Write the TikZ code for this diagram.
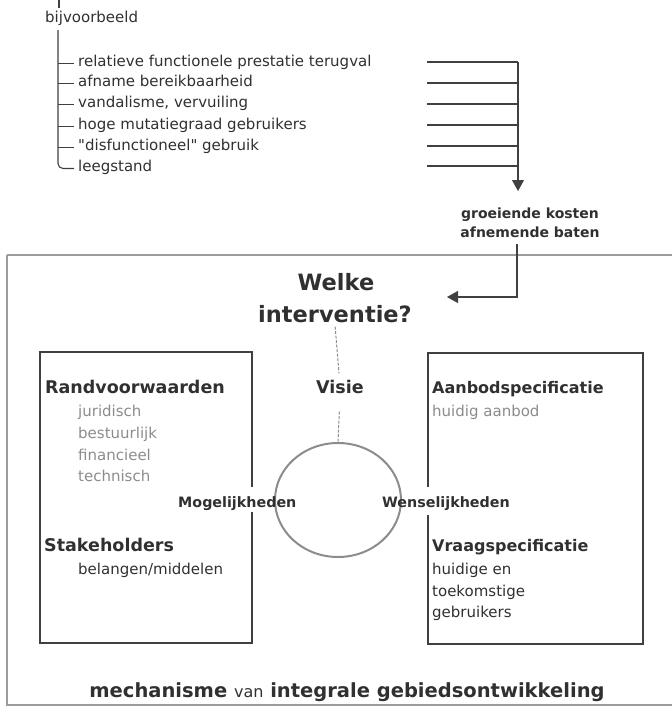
\documentclass[tikz,border=0pt]{standalone}
\usepackage{fontspec}
\setmainfont{DejaVu Sans}[Ligatures=TeXOff]
\usetikzlibrary{arrows.meta,shapes.geometric}
\definecolor{ink}{HTML}{303030}
\definecolor{soft}{HTML}{8C8C8C}
\definecolor{frame}{HTML}{9C9C9C}
\definecolor{wire}{HTML}{404040}

\begin{document}
\begin{tikzpicture}[x=1pt,y=-1pt,
  txt/.style={inner sep=0pt, text height=.75em, text depth=.25em, text=ink},
  item/.style={txt, anchor=base west, font=\fontsize{15}{18}\selectfont},
  lite/.style={item, text=soft},
  head/.style={txt, anchor=base west, font=\fontsize{17.5}{20}\selectfont\bfseries},
  spec/.style={txt, anchor=base west, font=\fontsize{16}{19}\selectfont\bfseries},
  side/.style={txt, anchor=base west, font=\fontsize{14.3}{17}\selectfont\bfseries},
  big/.style={txt, anchor=base, font=\fontsize{22.5}{26}\selectfont\bfseries},
  wireline/.style={draw=wire, line width=1.1pt},
  pointer/.style={wireline, -{Triangle[length=11pt,width=12pt]}},
  vision/.style={draw=soft, line width=1pt, dash pattern=on 3pt off 1.5pt},
]
\useasboundingbox (0,0) rectangle (672,707);

% --- list of causes -------------------------------------------------
\node[item] (vb) at (45,22) {bijvoorbeeld};
\node[item] (i1) at (78,66)  {relatieve functionele prestatie terugval};
\node[item] (i2) at (78,86)  {afname bereikbaarheid};
\node[item] (i3) at (78,107) {vandalisme, vervuiling};
\node[item] (i4) at (78,129) {hoge mutatiegraad gebruikers};
\node[item] (i5) at (78,150) {"disfunctioneel" gebruik};
\node[item] (i6) at (78,171) {leegstand};

\coordinate (stub) at (59,0);
\coordinate (trunk) at (58,30);
\draw[wireline] (stub) -- ++(0,8);
\draw[wireline, rounded corners=5pt] (trunk) |- ([xshift=-4pt]i6.west);
\foreach \k in {1,...,5}
  \draw[wireline] (trunk |- i\k.west) -- ([xshift=-4pt]i\k.west);

% --- collector lines and arrow --------------------------------------
\coordinate (col) at (518,62);
\foreach \yy in {62,83,104,125,146,166}
  \draw[wireline] (427,\yy) -- (518,\yy);
\node[txt, anchor=base, font=\fontsize{14}{17}\selectfont\bfseries] (cost) at (530,218) {groeiende kosten};
\node[txt, anchor=base, font=\fontsize{14}{17}\selectfont\bfseries] (gain) at (530,237) {afnemende baten};
\draw[pointer] (col) -- (518,191);

% --- outer frame ----------------------------------------------------
\draw[frame, line width=2pt] (7,255) -- (673,255);
\draw[frame, line width=2pt] (7,255) -- (7,705) -- (673,705);

\node[big] (welke) at (336,290) {Welke};
\node[big] (interv) at (335,322) {interventie?};
\coordinate (drop) at (517,244);
\draw[pointer] (drop) |- (447,297);

% --- left box ---------------------------------------------------------
\draw[wireline] (252,487) -- (252,352) -- (40,352) -- (40,643) -- (252,643) -- (252,512);
\node[head] (rand) at (45,393) {Randvoorwaarden};
\node[lite] (r1) at (78,416) {juridisch};
\node[lite] (r2) at (78,438) {bestuurlijk};
\node[lite] (r3) at (78,460) {financieel};
\node[lite] (r4) at (78,481) {technisch};
\node[head] (stake) at (44,551) {Stakeholders};
\node[item] (s1) at (78,574) {belangen/middelen};

% --- right box --------------------------------------------------------
\draw[wireline] (428,487) -- (428,353) -- (643,353) -- (643,644) -- (428,644) -- (428,515);
\node[spec] (aanb) at (432,393) {Aanbodspecificatie};
\node[lite] (a1) at (432,416) {huidig aanbod};
\node[spec] (vraag) at (432,551) {Vraagspecificatie};
\node[item] (v1) at (432,574) {huidige en};
\node[item] (v2) at (432,596) {toekomstige};
\node[item] (v3) at (432,617) {gebruikers};

% --- centre: vision and ring -----------------------------------------
\node[draw=soft, line width=2pt, ellipse, minimum width=126pt, minimum height=114pt, inner sep=0pt] (ring) at (338,500) {};
\node[head, anchor=base] (visie) at (340,393) {Visie};
\draw[vision, shorten <=2pt, shorten >=12pt] (interv.south) -- (visie.north);
\draw[vision, shorten <=16pt] (visie.south) -- (ring.north);
\node[side] (mog) at (178,507) {Mogelijkheden};
\node[side] (wens) at (382,507) {Wenselijkheden};

% --- caption ------------------------------------------------------------
\node[txt, anchor=base, font=\fontsize{19.5}{23}\selectfont] (mech) at (347,697)
  {\bfseries mechanisme {\mdseries\fontsize{16}{19}\selectfont van} integrale gebiedsontwikkeling};
\end{tikzpicture}
\end{document}
